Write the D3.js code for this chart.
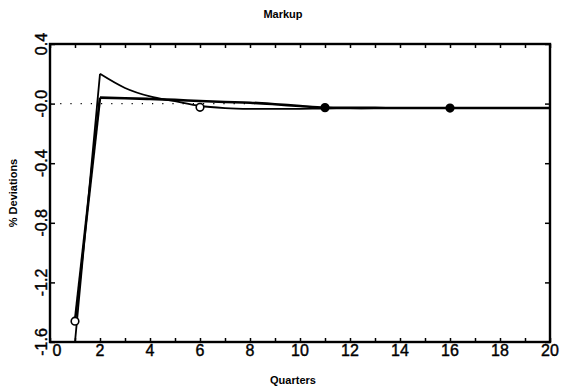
<!DOCTYPE html>
<html>
<head>
<meta charset="utf-8">
<script src="https://cdn.jsdelivr.net/npm/d3@7"></script>
<style>
  body { margin: 0; background: #fff; }
  text { font-family: "Liberation Sans", Arial, sans-serif; fill: #000; }
</style>
</head>
<body>
<script>
// quarters 1..20
let quarters = d3.range(1, 21);
// thick line (rises to a small positive level, drifts down)
let markupA = [-1.46, 0.04, 0.036, 0.031, 0.025, 0.017, 0.011, 0.006, -0.004, -0.016,
               -0.026, -0.028, -0.029, -0.03, -0.03, -0.03, -0.03, -0.03, -0.03, -0.03];
// thin line (overshoots at quarter 2 then decays)
let markupB = [-1.6, 0.2, 0.105, 0.048, 0.016, -0.016, -0.03, -0.035, -0.036, -0.035,
               -0.033, -0.032, -0.031, -0.031, -0.03, -0.03, -0.03, -0.03, -0.03, -0.03];
// circle markers
let markerQ = [1, 6, 11, 16];
let markerV = [-1.46, -0.025, -0.027, -0.03];
let markerFilled = [false, false, true, true];

let xTicks = d3.range(0, 21, 2);
let yTicks = [0.4, 0, -0.4, -0.8, -1.2, -1.6];
let yTickLabels = ["0.4", "-0.0", "-0.4", "-0.8", "-1.2", "-1.6"];

let width = 563, height = 391;
let mLeft = 50, mRight = 550, mTop = 44, mBottom = 342;

let svg = d3.select("body").append("svg")
    .attr("width", width)
    .attr("height", height);

let x = d3.scaleLinear().domain([0, 20]).range([mLeft, mRight]);
let y = d3.scaleLinear().domain([-1.6, 0.4]).range([mBottom, mTop]);

svg.append("defs").append("clipPath").attr("id", "plot")
    .append("rect")
    .attr("x", mLeft).attr("y", mTop - 2)
    .attr("width", mRight - mLeft).attr("height", mBottom - mTop + 4);

// dotted zero line
svg.append("line")
    .attr("x1", x(0)).attr("x2", x(9))
    .attr("y1", y(0)).attr("y2", y(0))
    .attr("stroke", "#000")
    .attr("stroke-width", 1.2)
    .attr("stroke-dasharray", "1.2,9");

let g = svg.append("g").attr("clip-path", "url(#plot)");

// straight jump from quarter 1 to 2, smooth afterwards
let rise = d3.line().x(d => x(d[0])).y(d => y(d[1]));
let tail = d3.line().x(d => x(d[0])).y(d => y(d[1])).curve(d3.curveMonotoneX);

function drawSeries(vals, sw) {
    let pts = vals.map((v, i) => [quarters[i], v]);
    g.append("path")
        .attr("d", rise(pts.slice(0, 2)))
        .attr("fill", "none").attr("stroke", "#000").attr("stroke-width", sw);
    g.append("path")
        .attr("d", tail(pts.slice(1)))
        .attr("fill", "none").attr("stroke", "#000").attr("stroke-width", sw)
        .attr("stroke-linejoin", "miter");
}

drawSeries(markupB, 1.8);
drawSeries(markupA, 2.6);

g.selectAll("circle.mk")
    .data(markerQ)
    .enter().append("circle")
    .attr("class", "mk")
    .attr("cx", d => x(d))
    .attr("cy", (d, i) => y(markerV[i]))
    .attr("r", 3.8)
    .attr("fill", (d, i) => markerFilled[i] ? "#000" : "#fff")
    .attr("stroke", "#000")
    .attr("stroke-width", 1.6);

// frame
svg.append("rect")
    .attr("x", mLeft).attr("y", mTop)
    .attr("width", mRight - mLeft).attr("height", mBottom - mTop)
    .attr("fill", "none")
    .attr("stroke", "#000")
    .attr("stroke-width", 2.4);

// inward ticks
let xAxisB = d3.axisBottom(x).tickValues(d3.range(0, 21, 1)).tickSize(-4).tickFormat("");
let xAxisT = d3.axisTop(x).tickValues(d3.range(0, 21, 1)).tickSize(-4).tickFormat("");
let yAxisL = d3.axisLeft(y).tickValues(yTicks).tickSize(-5).tickFormat("");
let yAxisR = d3.axisRight(y).tickValues(yTicks).tickSize(-5).tickFormat("");

[[xAxisB, `translate(0,${mBottom})`], [xAxisT, `translate(0,${mTop})`],
 [yAxisL, `translate(${mLeft},0)`], [yAxisR, `translate(${mRight},0)`]].forEach(a => {
    let ax = svg.append("g").attr("transform", a[1]).call(a[0]);
    ax.select(".domain").remove();
    ax.selectAll("line").attr("stroke", "#000").attr("stroke-width", 1.5);
});

// x tick labels
svg.append("g").selectAll("text")
    .data(xTicks)
    .enter().append("text")
    .attr("x", d => x(d) + (d === 0 ? 7 : 0))
    .attr("y", 356)
    .attr("text-anchor", "middle")
    .style("font-size", "16px")
    .style("stroke", "#000")
    .style("stroke-width", 0.4)
    .text(d => d);

// y tick labels (rotated)
svg.append("g").selectAll("text")
    .data(yTicks)
    .enter().append("text")
    .attr("transform", d => `translate(47,${y(d)}) rotate(-90)`)
    .attr("text-anchor", "middle")
    .style("font-size", "16px")
    .style("stroke", "#000")
    .style("stroke-width", 0.4)
    .text((d, i) => yTickLabels[i]);

svg.append("text")
    .attr("x", 283).attr("y", 18)
    .attr("text-anchor", "middle")
    .style("font-size", "11px")
    .style("font-weight", "bold")
    .text("Markup");

svg.append("text")
    .attr("x", 293).attr("y", 384)
    .attr("text-anchor", "middle")
    .style("font-size", "11px")
    .style("font-weight", "bold")
    .text("Quarters");

svg.append("text")
    .attr("transform", "translate(17,193) rotate(-90)")
    .attr("text-anchor", "middle")
    .style("font-size", "11px")
    .style("font-weight", "bold")
    .text("% Deviations");
</script>
</body>
</html>
